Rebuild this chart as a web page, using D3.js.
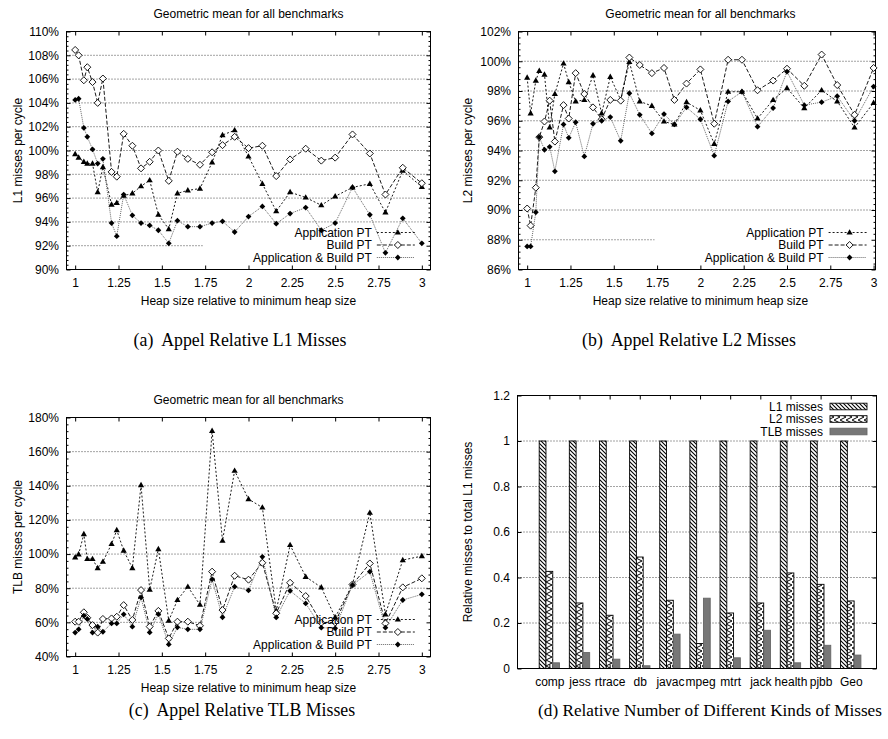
<!DOCTYPE html>
<html>
<head>
<meta charset="utf-8">
<script src="https://cdn.jsdelivr.net/npm/d3@7"></script>
<style>
  html, body { margin: 0; padding: 0; background: #fff; }
  svg text { font-family: "Liberation Sans", Arial, Helvetica, sans-serif; font-size: 12px; fill: #000; }
  svg text.caption { font-family: "Liberation Serif", "Times New Roman", serif; font-size: 17.8px; white-space: pre; }
  svg text.caption.long { font-size: 17.2px; }
</style>
</head>
<body>
<svg id="fig" width="888" height="739"></svg>
<script>
// Heap sizes (relative to the minimum heap) at which every benchmark was run
const heapSizes = [1.00, 1.02, 1.05, 1.07, 1.10, 1.13, 1.16, 1.21, 1.24, 1.28, 1.33, 1.38, 1.43, 1.48, 1.54, 1.59, 1.65,
                   1.72, 1.79, 1.85, 1.92, 2.00, 2.08, 2.16, 2.24, 2.33, 2.42, 2.50, 2.60, 2.70, 2.79, 2.89, 3.00];
const heapTicks = [1, 1.25, 1.5, 1.75, 2, 2.25, 2.5, 2.75, 3];
const seriesNames = ["Application PT", "Build PT", "Application & Build PT"];

// (a) L1 misses per cycle, percent of baseline
const l1App   = [99.7, 99.4, 99.05, 98.9, 98.9, 96.5, 98.6, 95.45, 95.6, 96.2, 96.4, 97.0, 97.5, 94.6, 93.4, 96.4, 96.65,
                 96.8, 99.0, 101.3, 101.7, 99.5, 97.2, 94.9, 96.5, 96.05, 95.4, 96.15, 96.9, 97.2, 94.8, 98.3, 96.95];
const l1Build = [108.45, 108.0, 105.9, 107.0, 105.75, 104.0, 106.05, 98.2, 97.8, 101.4, 100.4, 98.5, 99.05, 100.0, 97.45, 99.9, 99.3,
                 98.8, 99.85, 100.45, 101.15, 100.2, 100.4, 97.85, 99.25, 100.15, 99.15, 99.4, 101.35, 99.75, 96.3, 98.55, 97.25];
const l1Both  = [104.25, 104.35, 101.9, 101.15, 100.1, 98.9, 99.3, 93.9, 92.8, 96.3, 94.55, 93.9, 93.7, 93.3, 92.2, 94.1, 93.6,
                 93.6, 93.9, 94.05, 93.15, 94.45, 95.3, 93.85, 94.7, 95.2, 93.3, 93.9, 96.9, 94.6, 91.4, 94.3, 92.2];

// (b) L2 misses per cycle
const l2App   = [98.9, 96.5, 98.7, 99.35, 99.1, 95.55, 97.8, 99.85, 98.6, 97.3, 97.4, 99.05, 96.5, 98.95, 97.4, 99.95, 97.3,
                 97.0, 95.95, 95.75, 97.25, 96.7, 94.45, 97.95, 97.95, 96.15, 97.4, 98.2, 96.85, 98.05, 97.3, 95.55, 97.2];
const l2Build = [90.1, 88.95, 91.5, 94.9, 95.95, 97.35, 94.6, 97.05, 96.15, 99.2, 97.8, 96.9, 96.1, 97.4, 97.35, 100.25, 99.75,
                 99.2, 99.55, 97.4, 98.5, 99.45, 95.8, 100.1, 100.1, 98.05, 98.7, 99.5, 98.35, 100.45, 98.4, 96.4, 99.55];
const l2Both  = [87.55, 87.55, 89.85, 94.9, 94.05, 94.25, 92.6, 95.75, 94.85, 95.9, 93.6, 95.8, 96.0, 96.25, 94.65, 97.85, 96.4,
                 95.15, 96.45, 95.75, 96.9, 96.1, 93.65, 97.3, 97.95, 95.6, 96.85, 99.3, 97.05, 97.25, 97.65, 96.0, 98.3];

// (c) TLB misses per cycle
const tlbApp   = [98.1, 99.8, 111.7, 97.1, 97.1, 91.8, 95.5, 105.9, 114.0, 102.0, 91.8, 140.4, 79.1, 102.9, 61.0, 73.1, 80.9,
                  70.3, 172.2, 107.8, 148.8, 132.2, 127.3, 66.8, 105.3, 86.7, 80.5, 62.9, 82.2, 124.2, 64.7, 96.5, 98.8];
const tlbBuild = [60.4, 60.4, 65.9, 62.7, 58.4, 54.0, 62.0, 62.3, 63.3, 70.1, 61.4, 78.9, 57.5, 66.7, 50.6, 60.4, 60.4,
                  58.0, 89.7, 67.2, 87.3, 85.0, 94.9, 65.3, 83.2, 75.4, 59.8, 60.0, 82.2, 94.5, 59.4, 80.5, 85.8];
const tlbBoth  = [54.0, 55.9, 63.9, 62.0, 54.0, 57.5, 54.5, 59.4, 59.4, 64.7, 57.5, 74.6, 54.1, 64.8, 47.1, 57.1, 55.9,
                  55.9, 85.2, 63.0, 80.9, 78.7, 98.4, 62.9, 78.5, 71.1, 56.9, 56.5, 81.9, 89.7, 56.9, 73.1, 76.4];

// (d) misses of each kind relative to L1 misses, per benchmark
const benchmarks = ["comp", "jess", "rtrace", "db", "javac", "mpeg", "mtrt", "jack", "health", "pjbb", "Geo"];
const missKinds  = ["L1 misses", "L2 misses", "TLB misses"];
const l1Rel  = [1, 1, 1, 1, 1, 1, 1, 1, 1, 1, 1];
const l2Rel  = [0.427, 0.288, 0.234, 0.49, 0.30, 0.11, 0.244, 0.288, 0.42, 0.37, 0.297];
const tlbRel = [0.025, 0.07, 0.041, 0.012, 0.151, 0.309, 0.047, 0.168, 0.025, 0.102, 0.059];

const svg = d3.select("#fig");
const defs = svg.append("defs");

// Fill patterns for the bar chart
const pL1 = defs.append("pattern").attr("id", "fillL1").attr("patternUnits", "userSpaceOnUse")
  .attr("width", 4).attr("height", 4);
pL1.append("rect").attr("width", 4).attr("height", 4).attr("fill", "#fff");
pL1.append("path").attr("d", "M-1,-1L5,5M-1,3L1,5M3,-1L5,1")
  .attr("stroke", "#000").attr("stroke-width", 1.1);

const pL2 = defs.append("pattern").attr("id", "fillL2").attr("patternUnits", "userSpaceOnUse")
  .attr("width", 6).attr("height", 6);
pL2.append("rect").attr("width", 6).attr("height", 6).attr("fill", "#fff");
pL2.append("path").attr("d", "M0,0L6,3L0,6").attr("fill", "none")
  .attr("stroke", "#000").attr("stroke-width", 1);

const lineStyles = [
  { dash: "2,2", stroke: "#000", width: 0.9, marker: "M0,-3.3L3.1,2.1L-3.1,2.1Z", fill: "#000", mstroke: "none" },
  { dash: "4,2", stroke: "#000", width: 0.9, marker: "M0,-3.5L3.5,0L0,3.5L-3.5,0Z", fill: "#fff", mstroke: "#000" },
  { dash: "1,1", stroke: "#555", width: 0.9, marker: "M0,-2.9L2.9,0L0,2.9L-2.9,0Z", fill: "#000", mstroke: "none" }
];

function frameAndTicks(g, x, y, o, xTickVals, xFmt, yTickVals, yFmt, yMinor) {
  // left axis with labels
  g.append("g").attr("transform", `translate(${o.left},0)`)
    .call(d3.axisLeft(y).tickValues(yTickVals).tickFormat(yFmt).tickSize(-4).tickPadding(7.5))
    .call(a => a.select(".domain").remove());
  // right axis, ticks only
  g.append("g").attr("transform", `translate(${o.right},0)`)
    .call(d3.axisRight(y).tickValues(yTickVals).tickFormat("").tickSize(-4))
    .call(a => a.select(".domain").remove());
  if (yMinor) {
    g.append("g").attr("transform", `translate(${o.left},0)`)
      .call(d3.axisLeft(y).tickValues(yMinor).tickFormat("").tickSize(-2))
      .call(a => a.select(".domain").remove());
    g.append("g").attr("transform", `translate(${o.right},0)`)
      .call(d3.axisRight(y).tickValues(yMinor).tickFormat("").tickSize(-2))
      .call(a => a.select(".domain").remove());
  }
  g.append("g").attr("transform", `translate(0,${o.bottom})`)
    .call(d3.axisBottom(x).tickValues(xTickVals).tickFormat(xFmt).tickSize(-4).tickPadding(9))
    .call(a => a.select(".domain").remove());
  g.append("g").attr("transform", `translate(0,${o.top})`)
    .call(d3.axisTop(x).tickValues(xTickVals).tickFormat("").tickSize(-4))
    .call(a => a.select(".domain").remove());
  g.selectAll(".tick text").attr("font-family", null).attr("font-size", null);
  g.selectAll(".tick line").attr("stroke", "#000");
  g.append("rect").attr("x", o.left).attr("y", o.top)
    .attr("width", o.right - o.left).attr("height", o.bottom - o.top)
    .attr("fill", "none").attr("stroke", "#000").attr("stroke-width", 1);
}

function linePanel(o) {
  const g = svg.append("g");
  const x = d3.scaleLinear().domain(o.xDomain).range([o.left, o.right]);
  const y = d3.scaleLinear().domain(o.yDomain).range([o.bottom, o.top]);

  // horizontal grid at inner major ticks
  g.selectAll("line.grid").data(o.yTicks.slice(1, -1)).join("line").attr("class", "grid")
    .attr("x1", o.left).attr("x2", o.right).attr("y1", d => y(d)).attr("y2", d => y(d))
    .attr("stroke", "#333").attr("stroke-width", 0.9).attr("stroke-dasharray", "1,2");

  // opaque key box hides the grid behind the legend
  const x3 = x(3);
  const keyLeft = x3 - 219, keyTop = o.bottom - 44;
  g.append("rect").attr("x", keyLeft).attr("y", keyTop)
    .attr("width", o.right - keyLeft - 1).attr("height", o.bottom - keyTop - 1).attr("fill", "#fff");

  const minor = [];
  for (let k = 0; ; k++) {
    const v = +(o.yDomain[0] + k * o.minorStep).toFixed(4);
    if (v > o.yDomain[1]) break;
    if (!o.yTicks.some(t => Math.abs(t - v) < 1e-6)) minor.push(v);
  }
  frameAndTicks(g, x, y, o, heapTicks, d => String(d), o.yTicks, d => d + "%", minor);

  // data series
  o.series.forEach((vals, i) => {
    const st = lineStyles[i];
    const line = d3.line().x((d, j) => x(heapSizes[j])).y(d => y(d));
    g.append("path").attr("d", line(vals)).attr("fill", "none")
      .attr("stroke", st.stroke).attr("stroke-width", st.width).attr("stroke-dasharray", st.dash);
  });
  o.series.forEach((vals, i) => {
    const st = lineStyles[i];
    g.selectAll(null).data(vals).join("path")
      .attr("transform", (d, j) => `translate(${x(heapSizes[j])},${y(d)})`)
      .attr("d", st.marker).attr("fill", st.fill).attr("stroke", st.mstroke).attr("stroke-width", 0.9);
  });

  // legend
  seriesNames.forEach((name, i) => {
    const st = lineStyles[i];
    const ly = o.bottom - 37 + i * 12.5;
    g.append("text").attr("x", x3 - 50).attr("y", ly).attr("dy", "0.35em")
      .attr("text-anchor", "end").text(name);
    g.append("line").attr("x1", x3 - 45).attr("x2", x3 - 7).attr("y1", ly).attr("y2", ly)
      .attr("stroke", st.stroke).attr("stroke-width", st.width).attr("stroke-dasharray", st.dash);
    g.append("path").attr("transform", `translate(${x3 - 24},${ly})`).attr("d", st.marker)
      .attr("fill", st.fill).attr("stroke", st.mstroke).attr("stroke-width", 0.9);
  });

  // titles
  g.append("text").attr("x", (x(1) + x(3)) / 2).attr("y", o.top - 18).attr("dy", "0.35em")
    .attr("text-anchor", "middle").text("Geometric mean for all benchmarks");
  g.append("text").attr("x", (x(1) + x(3)) / 2).attr("y", o.bottom + 31).attr("dy", "0.35em")
    .attr("text-anchor", "middle").text("Heap size relative to minimum heap size");
  g.append("text").attr("transform", `translate(${o.yTitleX},${(o.top + o.bottom) / 2}) rotate(-90)`)
    .attr("dy", "0.35em").attr("text-anchor", "middle").text(o.yTitle);
  g.append("text").attr("class", "caption").attr("x", o.capX).attr("y", o.capY)
    .attr("text-anchor", "middle").text(o.caption);
}

linePanel({
  left: 66.5, right: 430.5, top: 31.5, bottom: 269.5, xDomain: [0.95, 3.05],
  yDomain: [90, 110], yTicks: d3.range(90, 110.1, 2), minorStep: 0.4,
  series: [l1App, l1Build, l1Both], yTitle: "L1 misses per cycle", yTitleX: 18,
  caption: "(a)  Appel Relative L1 Misses", capX: 240, capY: 346
});

linePanel({
  left: 518.5, right: 875.5, top: 31.5, bottom: 269.5, xDomain: [0.95, 3.011],
  yDomain: [86, 102], yTicks: d3.range(86, 102.1, 2), minorStep: 0.4,
  series: [l2App, l2Build, l2Both], yTitle: "L2 misses per cycle", yTitleX: 468,
  caption: "(b)  Appel Relative L2 Misses", capX: 689, capY: 346
});

linePanel({
  left: 66.5, right: 430.5, top: 417.5, bottom: 656.5, xDomain: [0.95, 3.05],
  yDomain: [40, 180], yTicks: d3.range(40, 180.1, 20), minorStep: 4,
  series: [tlbApp, tlbBuild, tlbBoth], yTitle: "TLB misses per cycle", yTitleX: 18,
  caption: "(c)  Appel Relative TLB Misses", capX: 242, capY: 716
});

// (d) clustered bars
(function barPanel() {
  const o = { left: 517.5, right: 876.5, top: 395.5, bottom: 668.5 };
  const g = svg.append("g");
  const x0 = d3.scaleBand().domain(benchmarks).range([534.3, 865.8]).padding(0);
  const x1 = d3.scaleBand().domain(missKinds).range([4.9, x0.step() - 4.9]).padding(0);
  const y = d3.scaleLinear().domain([0, 1.2]).range([o.bottom, o.top]);
  const yTicks = [0, 0.2, 0.4, 0.6, 0.8, 1, 1.2];

  g.selectAll("line.grid").data(yTicks.slice(1, -1)).join("line").attr("class", "grid")
    .attr("x1", o.left).attr("x2", o.right).attr("y1", d => y(d)).attr("y2", d => y(d))
    .attr("stroke", "#333").attr("stroke-width", 0.9).attr("stroke-dasharray", "1,2");

  const xAxisScale = d3.scalePoint().domain(benchmarks)
    .range([x0(benchmarks[0]) + x0.step() / 2, x0(benchmarks[benchmarks.length - 1]) + x0.step() / 2]);

  const fills = ["url(#fillL1)", "url(#fillL2)", "#777"];
  const strokes = ["#000", "#000", "#666"];
  const series = [l1Rel, l2Rel, tlbRel];
  series.forEach((vals, s) => {
    g.selectAll(null).data(vals).join("rect")
      .attr("x", (d, i) => x0(benchmarks[i]) + x1(missKinds[s]))
      .attr("width", x1.bandwidth())
      .attr("y", d => y(d)).attr("height", d => y(0) - y(d))
      .attr("fill", fills[s]).attr("stroke", strokes[s]).attr("stroke-width", 0.9);
  });

  frameAndTicks(g, xAxisScale, y, o, benchmarks, d => d, yTicks, d => String(+d.toFixed(1)), null);

  // legend
  missKinds.forEach((name, i) => {
    const ly = o.top + 11 + i * 12.5;
    g.append("text").attr("x", 823).attr("y", ly).attr("dy", "0.35em").attr("text-anchor", "end").text(name);
    g.append("rect").attr("x", 830).attr("y", ly - 3.3).attr("width", 37).attr("height", 6.6)
      .attr("fill", fills[i]).attr("stroke", strokes[i]).attr("stroke-width", 0.9);
  });

  g.append("text").attr("transform", `translate(468,${(o.top + o.bottom) / 2}) rotate(-90)`)
    .attr("dy", "0.35em").attr("text-anchor", "middle").text("Relative misses to total L1 misses");
  g.append("text").attr("class", "caption long").attr("x", 710).attr("y", 716)
    .attr("text-anchor", "middle").text("(d) Relative Number of Different Kinds of Misses");
})();
</script>
</body>
</html>
